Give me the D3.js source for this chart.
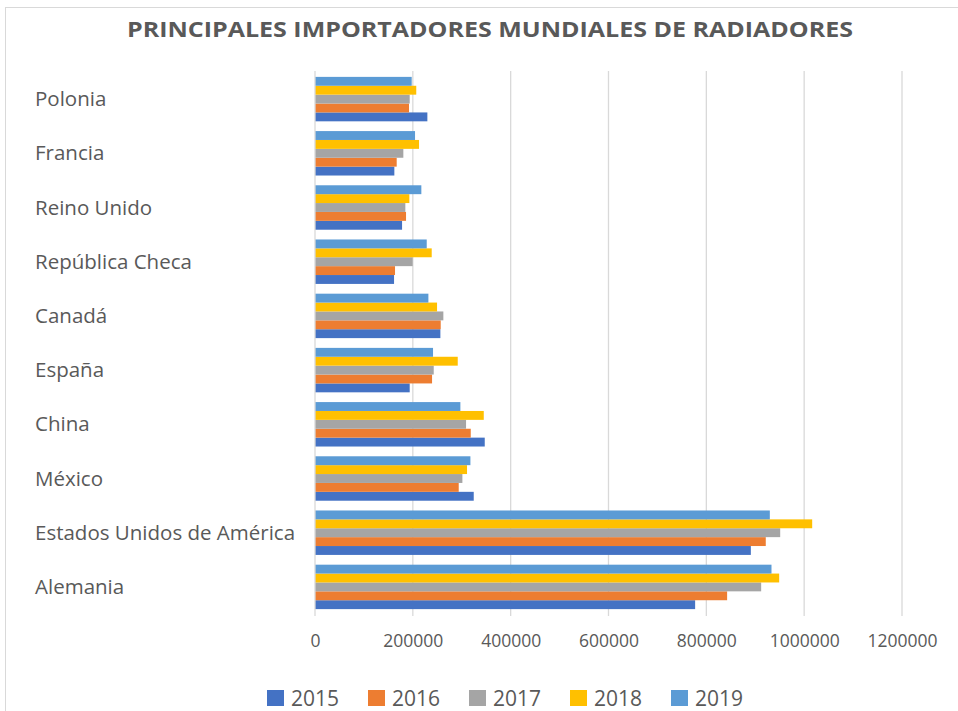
<!DOCTYPE html>
<html>
<head>
<meta charset="utf-8">
<script src="https://cdn.jsdelivr.net/npm/d3@7"></script>
<style>
  body { margin: 0; background: #fff; }
  text { font-family: "Open Sans", "Noto Sans", sans-serif; fill: #595959; }
</style>
</head>
<body>
<script>
const WIDTH = 958
const HEIGHT = 711

// data
const paises = ["Polonia", "Francia", "Reino Unido", "República Checa", "Canadá",
    "España", "China", "México", "Estados Unidos de América", "Alemania"]
const anios = ["2015", "2016", "2017", "2018", "2019"]
const v2015 = [229700, 162200, 178000, 161600, 256300, 193600, 347000, 324500, 891000, 777100]
const v2016 = [192200, 167000, 186100, 163600, 257000, 239300, 318400, 293800, 921500, 842500]
const v2017 = [193600, 180600, 184700, 199700, 262400, 242700, 308800, 301300, 951000, 912100]
const v2018 = [207000, 212700, 192900, 238600, 249500, 291800, 345000, 310800, 1016400, 948900]
const v2019 = [197700, 204500, 217400, 228400, 231800, 241300, 297200, 317700, 929800, 933200]
const ticks = [0, 200000, 400000, 600000, 800000, 1000000, 1200000]
const colores = ["#4472C4", "#ED7D31", "#A5A5A5", "#FFC000", "#5B9BD5"]

const series = [v2015, v2016, v2017, v2018, v2019]

const svg = d3.select("body")
    .append("svg")
    .attr("width", WIDTH)
    .attr("height", HEIGHT)

// cadre du graphique
svg.append("rect")
    .attr("x", 5.5).attr("y", 7.5)
    .attr("width", WIDTH).attr("height", HEIGHT)
    .attr("fill", "none")
    .attr("stroke", "#d9d9d9")

svg.append("text")
    .text("PRINCIPALES IMPORTADORES MUNDIALES DE RADIADORES")
    .attr("x", 490)
    .attr("y", 37)
    .attr("text-anchor", "middle")
    .style("font-size", "21px")
    .style("font-weight", "bold")
    .attr("textLength", 726)
    .attr("lengthAdjust", "spacingAndGlyphs")

const x = d3.scaleLinear().domain([0, 1200000]).range([315, 902])
const y = d3.scaleBand().domain(paises).range([72, 614]).paddingInner(0.18).paddingOuter(0.09)
// dans une catégorie, 2015 en bas, 2019 en haut
const ySub = d3.scaleBand().domain(anios.slice().reverse()).range([0, y.bandwidth()])

// gridlines
svg.append("g")
    .selectAll("line")
    .data(ticks.slice(1))
    .enter()
    .append("line")
    .attr("x1", d => x(d)).attr("x2", d => x(d))
    .attr("y1", 71).attr("y2", 616)
    .attr("stroke", "#d9d9d9")
    .attr("stroke-width", 1.3)

// bars
const grupos = svg.append("g")
    .selectAll("g")
    .data(paises)
    .enter()
    .append("g")
    .attr("transform", d => "translate(0," + y(d) + ")")

grupos.selectAll("rect")
    .data((p, i) => anios.map((a, k) => ({ anio: a, valor: series[k][i], k: k })))
    .enter()
    .append("rect")
    .attr("x", x(0))
    .attr("y", d => ySub(d.anio))
    .attr("width", d => x(d.valor) - x(0))
    .attr("height", ySub.bandwidth())
    .attr("fill", d => colores[d.k])

// axe vertical
svg.append("line")
    .attr("x1", x(0)).attr("x2", x(0))
    .attr("y1", 71).attr("y2", 616)
    .attr("stroke", "#d9d9d9")
    .attr("stroke-width", 1.3)

// category labels
svg.append("g")
    .selectAll("text")
    .data(paises)
    .enter()
    .append("text")
    .text(d => d)
    .attr("x", 35)
    .attr("y", d => y(d) + y.bandwidth() / 2 + 7)
    .style("font-size", "20.5px")

// tick labels
const xAxis = svg.append("g")
    .attr("transform", "translate(0,647)")
    .call(d3.axisBottom(x).tickValues(ticks).tickFormat(d3.format("d")).tickSize(0))
xAxis.select(".domain").remove()
xAxis.selectAll("text")
    .attr("dy", 0)
    .attr("y", 0)
    .style("font-size", "17.5px")
    .style("font-family", "'Open Sans', sans-serif")
    .attr("fill", "#595959")

// legend
const leyenda = svg.append("g")
    .selectAll("g")
    .data(anios)
    .enter()
    .append("g")
    .attr("transform", (d, i) => "translate(" + (267 + i * 101) + ",690)")

leyenda.append("rect")
    .attr("width", 17).attr("height", 16)
    .attr("fill", (d, i) => colores[i])

leyenda.append("text")
    .text(d => d)
    .attr("x", 24)
    .attr("y", 15.5)
    .style("font-size", "21px")
</script>
</body>
</html>
